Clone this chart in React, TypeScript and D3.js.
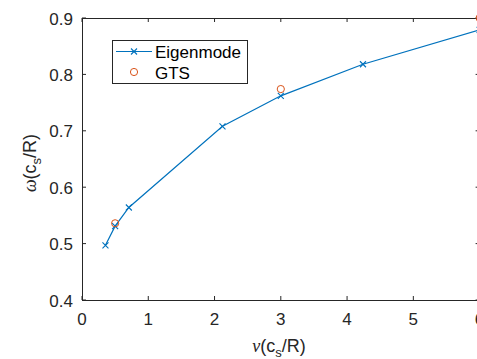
import React from "react";
import * as d3 from "d3";

// Eigenmode dispersion (frequency vs. collision rate) and GTS simulation points
const eigenNu = [0.354, 0.5, 0.707, 2.12, 3, 4.24, 6];
const eigenOmega = [0.497, 0.531, 0.564, 0.708, 0.762, 0.818, 0.879];
const gtsNu = [0.5, 3, 6];
const gtsOmega = [0.536, 0.774, 0.9];

const xTicks = [0, 1, 2, 3, 4, 5, 6];
const yTicks = [0.4, 0.5, 0.6, 0.7, 0.8, 0.9];
const legendLabels = ["Eigenmode", "GTS"];

const W = 477;
const H = 359;
const BLUE = "#0072BD";
const ORANGE = "#D95319";
const AX = "#262626";
const FONT = "'Liberation Sans', Helvetica, Arial, sans-serif";

export default function App() {
  const x = d3.scaleLinear().domain([0, 6]).range([82, 479.6]);
  const y = d3.scaleLinear().domain([0.4, 0.9]).range([300, 18]);
  const [x0, x1] = x.range();
  const [y0, y1] = y.range();

  const eigen = eigenNu.map((v, i) => [v, eigenOmega[i]] as [number, number]);
  const gts = gtsNu.map((v, i) => [v, gtsOmega[i]] as [number, number]);
  const line = d3
    .line<[number, number]>()
    .x((d) => x(d[0]))
    .y((d) => y(d[1]));

  const cross = (cx: number, cy: number, k: string, s = 3) => (
    <path
      key={k}
      d={`M${cx - s},${cy - s}L${cx + s},${cy + s}M${cx - s},${cy + s}L${cx + s},${cy - s}`}
      stroke={BLUE}
      strokeWidth={1.1}
      fill="none"
    />
  );

  const tickLen = 4;

  return (
    <svg
      width={W}
      height={H}
      style={{ position: "absolute", left: 0, top: 0, background: "#fff" }}
      fontFamily={FONT}
    >
      <rect width={W} height={H} fill="#fff" />

      {/* axes box */}
      <g stroke={AX} strokeWidth={1} fill="none">
        <line x1={x0} y1={y0 + 0.5} x2={x1} y2={y0 + 0.5} />
        <line x1={x0} y1={y1 + 0.5} x2={x1} y2={y1 + 0.5} />
        <line x1={x0 + 0.5} y1={y0} x2={x0 + 0.5} y2={y1} />
        <line x1={x1 - 0.5} y1={y0} x2={x1 - 0.5} y2={y1} />
        {xTicks.map((t) => (
          <g key={`xt${t}`}>
            <line x1={x(t)} y1={y0} x2={x(t)} y2={y0 - tickLen} />
            <line x1={x(t)} y1={y1} x2={x(t)} y2={y1 + tickLen} />
          </g>
        ))}
        {yTicks.map((t) => (
          <g key={`yt${t}`}>
            <line x1={x0} y1={y(t)} x2={x0 + tickLen} y2={y(t)} />
            <line x1={x1} y1={y(t)} x2={x1 - tickLen} y2={y(t)} />
          </g>
        ))}
      </g>

      {/* tick labels */}
      <g fill={AX} fontSize={17}>
        {xTicks.map((t) => (
          <text key={`xl${t}`} x={x(t)} y={325} textAnchor="middle">
            {t}
          </text>
        ))}
        {yTicks.map((t) => (
          <text key={`yl${t}`} x={73} y={y(t) + 6.5} textAnchor="end">
            {t.toFixed(1)}
          </text>
        ))}
      </g>

      {/* axis titles */}
      <text x={279} y={352} textAnchor="middle" fontSize={18} fill={AX}>
        <tspan fontFamily="'Liberation Serif', serif" fontStyle="italic">ν</tspan>
        <tspan>(c</tspan>
        <tspan fontSize={13} dy={5}>s</tspan>
        <tspan dy={-5}>/R)</tspan>
      </text>
      <text
        transform="translate(36,163) rotate(-90)"
        textAnchor="middle"
        fontSize={18}
        fill={AX}
      >
        <tspan fontFamily="'Liberation Serif', serif" fontStyle="italic">ω</tspan>
        <tspan>(c</tspan>
        <tspan fontSize={13} dy={5}>s</tspan>
        <tspan dy={-5}>/R)</tspan>
      </text>

      {/* data */}
      <path d={line(eigen) ?? ""} stroke={BLUE} strokeWidth={1.2} fill="none" />
      {eigen.map((d, i) => cross(x(d[0]), y(d[1]), `e${i}`))}
      {gts.map((d, i) => (
        <circle
          key={`g${i}`}
          cx={x(d[0])}
          cy={y(d[1])}
          r={3.6}
          fill="none"
          stroke={ORANGE}
          strokeWidth={1}
        />
      ))}

      {/* legend */}
      <g>
        <rect x={112.5} y={40.5} width={135} height={43} fill="#fff" stroke={AX} strokeWidth={1} />
        <line x1={116} y1={51.5} x2={152} y2={51.5} stroke={BLUE} strokeWidth={1.2} />
        {cross(134, 51.5, "lg")}
        <circle cx={134} cy={72} r={3.6} fill="none" stroke={ORANGE} strokeWidth={1} />
        <text x={155} y={57.5} fontSize={17} fill="#000">
          {legendLabels[0]}
        </text>
        <text x={155} y={78.5} fontSize={17} fill="#000">
          {legendLabels[1]}
        </text>
      </g>
    </svg>
  );
}
